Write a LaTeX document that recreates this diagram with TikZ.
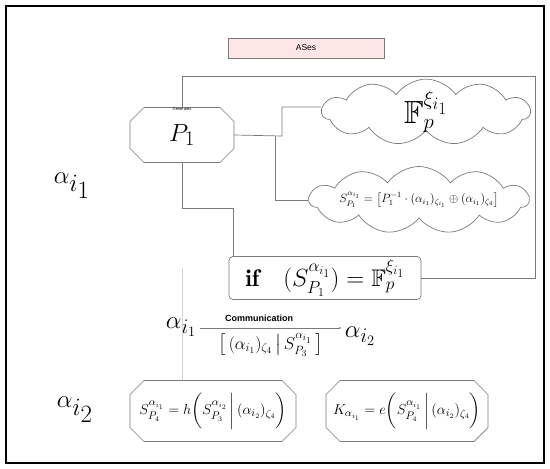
\documentclass[tikz,border=0pt]{standalone}
\usepackage{amssymb}
\usepackage{amsmath}
\usepackage{fontspec}
\usepackage{tikz}
\usetikzlibrary{arrows}
\usetikzlibrary{arrows.meta}
\usetikzlibrary{shapes.misc}
\usetikzlibrary{shapes.symbols}
\usepackage{xcolor}
\newfontfamily\arialfont{Liberation Sans}
\definecolor{wiregray}{HTML}{7A7A7A}
\definecolor{asespink}{HTML}{FCE6E6}
\newcommand{\fsz}[1]{\fontsize{#1}{#1}\selectfont}
\newcommand{\Ffield}{\mathbb{F}_p^{\xi_{i_1}}}

\begin{document}
\begin{tikzpicture}[x=1pt,y=-1pt]
\tikzstyle{wire}=[draw=wiregray,line width=0.7pt]
\tikzstyle{chambox}=[chamfered rectangle,chamfered rectangle xsep=7pt,chamfered rectangle ysep=7pt,draw=wiregray,line width=0.7pt,inner sep=0pt]
\tikzstyle{cloudbox}=[cloud,cloud puffs=11,cloud puff arc=110,cloud ignores aspect,draw=wiregray,line width=0.7pt,inner sep=0pt]
\useasboundingbox (0,0) rectangle (550,469);
\draw[line width=2.6pt] (6,6) rectangle (544,463);
\node[draw=wiregray,fill=asespink,minimum width=156pt,minimum height=20pt,font=\arialfont\fsz{8.5}] (ases) at (306,48) {ASes};
\node[chambox,minimum width=104pt,minimum height=55pt,font=\fsz{30}] (p1) at (182,135) {$P_1$};
\node[below=0.5pt,inner sep=0pt,font=\arialfont\fsz{4}] (gen) at (p1.north) {Generates};
\node[cloudbox,minimum width=208pt,minimum height=62pt,font=\fsz{32}] (fp) at (426,112) {$\Ffield$\hspace{24pt}};
\node[cloudbox,minimum width=198pt,minimum height=67pt,font=\fsz{12}] (sp1) at (419,200)
  {$S_{P_1}^{\alpha_{i_1}} = \left[P_1^{-1}\cdot(\alpha_{i_1})_{\zeta_{i_1}}\oplus(\alpha_{i_1})_{\zeta_4}\right]$};
\node[draw=wiregray,line width=0.7pt,rounded corners=4pt,minimum width=192pt,minimum height=43pt,font=\fsz{24}] (cond) at (325,278)
  {$\mathbf{if}\quad(S_{P_1}^{\alpha_{i_1}}) = \Ffield$};
\node[font=\fsz{46}] (ai1) at (72,186) {$\alpha_{i_1}$};
\node[font=\fsz{46}] (ai2) at (75,410) {$\alpha_{i_2}$};
\node[anchor=base,font=\fsz{30}] (src) at (181,328) {$\alpha_{i_1}$};
\node[anchor=base,font=\fsz{30}] (dst) at (360,337) {$\alpha_{i_2}$};
\node[chambox,minimum width=166pt,minimum height=61pt,font=\fsz{15}] (sp4) at (213,411)
  {$S_{P_4}^{\alpha_{i_1}} = h\biggl(S_{P_3}^{\alpha_{i_2}}\,\bigg|\,(\alpha_{i_2})_{\zeta_4}\biggr)$};
\node[chambox,minimum width=160pt,minimum height=61pt,font=\fsz{15}] (key) at (407,411)
  {$K_{\alpha_{i_1}} = e\biggl(S_{P_4}^{\alpha_{i_1}}\,\bigg|\,(\alpha_{i_2})_{\zeta_4}\biggr)$};
% wires
\coordinate (tr) at (535,76);
\coordinate (jn) at (282,136);
\coordinate (jd) at (275,136);
\coordinate (kn) at (233,208);
\coordinate (fa) at (182,268);
\draw[wire] (p1.north) |- (tr) |- (cond.east);
\draw[wire] (p1.east) -- (jn) |- ([yshift=5pt]fp.west);
\draw[wire] (jd) |- (sp1.west);
\draw[wire] (p1.south) |- (kn) -- (kn |- cond.north);
\draw[draw=gray!35,line width=0.6pt] (fa) -- (fa |- sp4.north);
\draw[wire,-{Latex[length=2pt,width=2pt]}] (src.base east) -- node[pos=0.42,above=3pt,font=\arialfont\bfseries\fsz{9}] (comm) {Communication}
  node[below=2pt,font=\fsz{18}] (msg) {$\left[\,(\alpha_{i_1})_{\zeta_4}\,\middle|\,S_{P_3}^{\alpha_{i_1}}\,\right]$} (src.base east -| dst.west);
\end{tikzpicture}
\end{document}
